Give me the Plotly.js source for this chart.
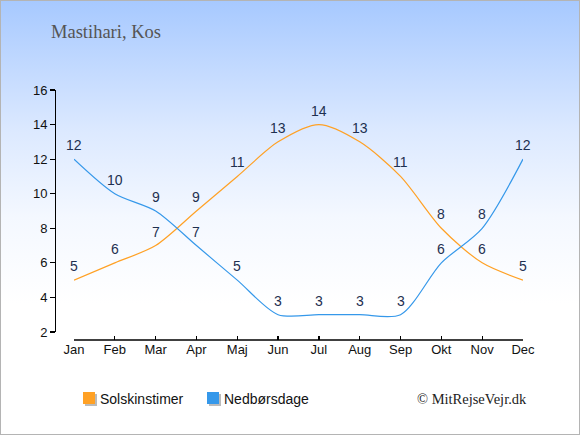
<!DOCTYPE html>
<html><head><meta charset="utf-8">
<script src="https://cdn.plot.ly/plotly-3.0.1.min.js"></script>
<style>
html,body{margin:0;padding:0;}
#wrap{width:578px;height:433px;border:1px solid #b4b4b4;background:linear-gradient(to bottom,#a7c9ff 0%,#dce9ff 30%,#f4f8ff 50%,#ffffff 70%,#ffffff 100%);}
#chart{width:578px;height:433px;}
</style></head><body>
<div id="wrap"><div id="chart"></div></div>
<script>
const months = ['Jan','Feb','Mar','Apr','Maj','Jun','Jul','Aug','Sep','Okt','Nov','Dec'];
const solskinstimer = [5,6,7,9,11,13,14,13,11,8,6,5];
const nedboersdage = [12,10,9,7,5,3,3,3,3,6,8,12];
const seriesNames = ['Solskinstimer','Nedbørsdage'];
const seriesColors = ['#ffa125','#3598ea'];
const yTicks = [2,4,6,8,10,12,14,16];

const W=578,H=433,L=54,R=522,T=89,B=339;
const px=x=>(x-L)/(R-L), py=y=>(B-y)/(B-T);

const mk=(vals,i)=>({x:months,y:vals,type:'scatter',mode:'lines',
  line:{color:seriesColors[i],width:1.2,shape:'spline',smoothing:0.8},
  showlegend:false,hoverinfo:'skip'});

const layout={
  width:W,height:H,
  paper_bgcolor:'rgba(0,0,0,0)',plot_bgcolor:'rgba(0,0,0,0)',
  margin:{l:L,r:W-R,t:T,b:H-B},
  title:{text:'Mastihari, Kos',x:50/W,xanchor:'left',xref:'container',y:1-31/H,yanchor:'middle',yref:'container',
    font:{family:'Liberation Serif, serif',size:18.5,color:'#555555'}},
  xaxis:{type:'category',domain:[px(73),1],range:[0,11],anchor:'free',position:0,
    showline:false,ticks:'inside',ticklen:4,tickcolor:'#000',tickwidth:1.2,
    showgrid:false,zeroline:false,tickfont:{family:'Liberation Sans, Arial',size:13,color:'#111'}},
  yaxis:{domain:[py(331),1],range:[2,16],tickvals:yTicks,anchor:'free',position:0,
    showline:true,linecolor:'#000',linewidth:1.3,ticks:'outside',ticklen:5,tickcolor:'#000',tickwidth:1.2,
    showgrid:false,zeroline:false,tickfont:{family:'Liberation Sans, Arial',size:13,color:'#111'}},
  shapes:[{type:'line',xref:'x',yref:'paper',x0:0,x1:11,y0:0,y1:0,line:{color:'#000',width:1.3}}],
  annotations:[]
};
[solskinstimer,nedboersdage].forEach(vals=>{
  vals.forEach((v,j)=>layout.annotations.push({xref:'x',yref:'y',x:months[j],y:v,text:String(v),
    showarrow:false,xanchor:'center',yanchor:'middle',yshift:14,
    font:{family:'Liberation Sans, Arial',size:14,color:'#1e3050'}}));
});
const legX=[82,206];
seriesNames.forEach((n,i)=>{
  layout.shapes.push({type:'rect',xref:'paper',yref:'paper',x0:px(legX[i]+2),x1:px(legX[i]+14),y0:py(405),y1:py(393),fillcolor:'#bbbbbb',line:{width:0}});
  layout.shapes.push({type:'rect',xref:'paper',yref:'paper',x0:px(legX[i]),x1:px(legX[i]+12),y0:py(403),y1:py(391),fillcolor:seriesColors[i],line:{width:0}});
  layout.annotations.push({xref:'paper',yref:'paper',x:px(legX[i]+15),y:py(398),xanchor:'left',yanchor:'middle',showarrow:false,
    text:n,font:{family:'Liberation Sans, Arial',size:14,color:'#111'}});
});
layout.annotations.push({xref:'paper',yref:'paper',x:px(528),y:py(398),xanchor:'right',yanchor:'middle',showarrow:false,
  text:'© MitRejseVejr.dk',font:{family:'Liberation Serif, serif',size:14.5,color:'#222'}});

Plotly.newPlot('chart',[mk(solskinstimer,0),mk(nedboersdage,1)],layout,{displayModeBar:false,staticPlot:true});
</script></body></html>
